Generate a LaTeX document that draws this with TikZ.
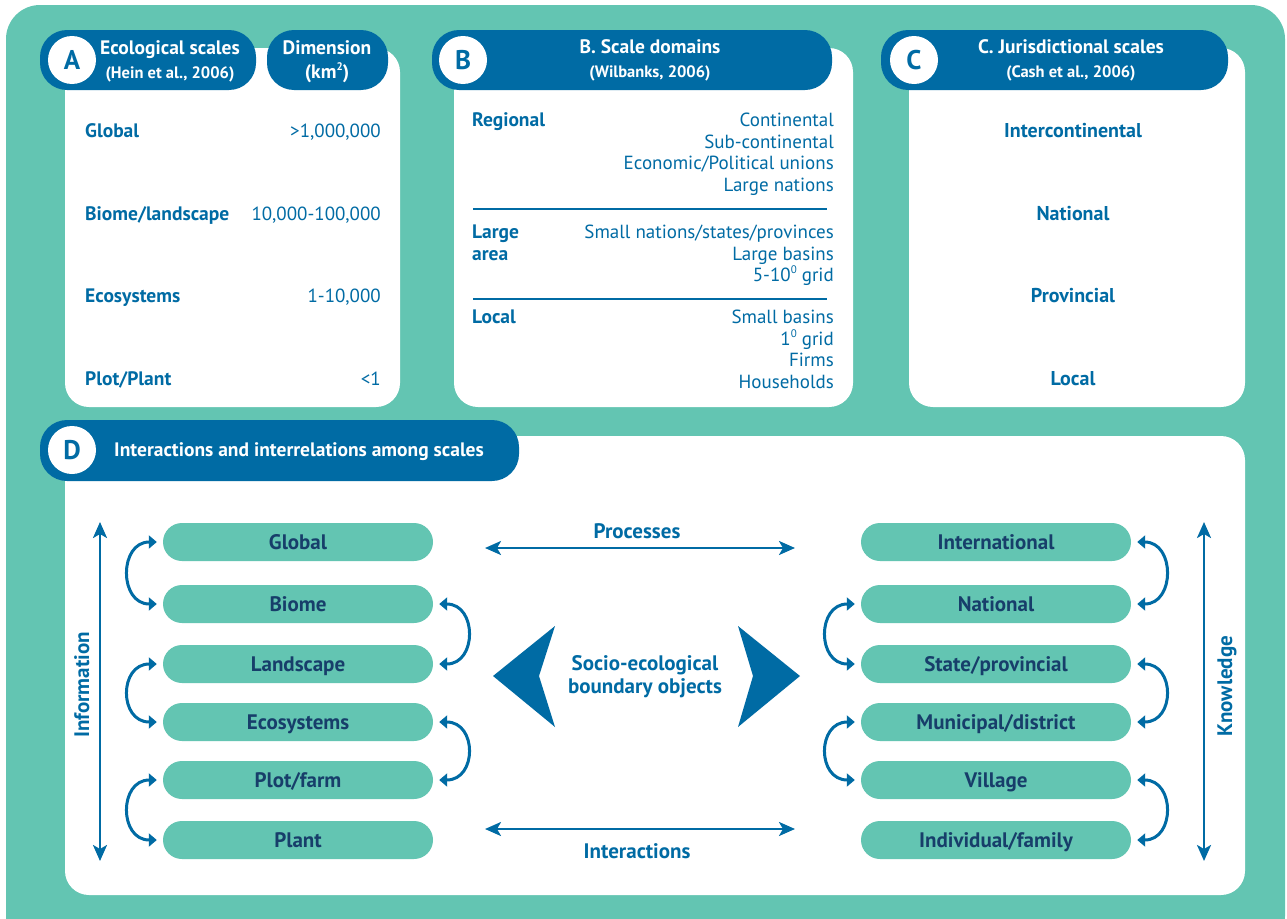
\documentclass[tikz,border=0pt]{standalone}
\usepackage{fontspec}
\setmainfont{PT Sans}
\usetikzlibrary{arrows.meta,calc}
\definecolor{tealbg}{HTML}{63C5B2}
\definecolor{hblue}{HTML}{006BA4}
\definecolor{navy}{HTML}{173E6A}
\newcommand{\fsz}[1]{\fontsize{#1}{#1}\selectfont}
\newcommand{\mysup}[1]{\raisebox{0.75ex}{\fontsize{11}{11}\selectfont #1}}
\begin{document}
\begin{tikzpicture}[x=1pt,y=-1pt,
  panel/.style={fill=white, rounded corners=24pt},
  hdrpill/.style={fill=hblue, rounded corners=27pt},
  letterc/.style={circle, fill=white, minimum size=48pt, inner sep=0pt, text=hblue, font=\bfseries\fsz{27}},
  htitle/.style={anchor=base, text=white, font=\bfseries\fsz{19.5}, inner sep=0pt},
  hsub/.style={anchor=base, text=white, font=\bfseries\fsz{16.5}, inner sep=0pt},
  lab/.style={anchor=base west, text=hblue, font=\bfseries\fsz{19.5}, inner sep=0pt},
  val/.style={anchor=base east, text=hblue, font=\fsz{19}, inner sep=0pt},
  clab/.style={anchor=base, text=hblue, font=\bfseries\fsz{20}, inner sep=0pt},
  dlab/.style={anchor=base, text=hblue, font=\bfseries\fsz{21}, inner sep=0pt},
  scl/.style={fill=tealbg, rounded corners=19pt, minimum width=270pt, minimum height=38pt, inner sep=0pt, text height=15pt, text depth=0pt, text=navy, font=\bfseries\fsz{21}},
  curv/.style={draw=hblue, line width=3pt, arrows={Triangle[length=8pt,width=13pt]-Triangle[length=8pt,width=13pt]}},
  sarr/.style={draw=hblue, line width=2.5pt, arrows={Stealth[length=16pt,width=14pt,inset=4pt]-Stealth[length=16pt,width=14pt,inset=4pt]}}
]
\useasboundingbox (0,0) rectangle (1287,918);
% background
\fill[tealbg, rounded corners=34pt] (6,5) rectangle (1285,950);
% panels
\fill[panel] (65,48) rectangle (400,407);
\fill[panel] (454,48) rectangle (853,407);
\fill[panel] (909,48) rectangle (1245,407);
\fill[panel] (65,436) rectangle (1245,895);
% header pills
\fill[hdrpill] (40,30) rectangle (256,90);
\fill[hdrpill] (267,30) rectangle (388,90);
\fill[hdrpill] (432,30) rectangle (832,90);
\fill[hdrpill] (881,30) rectangle (1228,90);
\fill[hdrpill] (40,420) rectangle (519,481);
\node[letterc] (la) at (72,60) {A};
\node[letterc] (lb) at (463,60) {B};
\node[letterc] (lc) at (914,60) {C};
\node[letterc] (ld) at (72,450) {D};
% header texts
\node[htitle] (ta1) at (170,54) {Ecological scales};
\node[hsub] (ta2) at (170,78) {(Hein et al., 2006)};
\node[htitle] (td1) at (327,54) {Dimension};
\node[htitle] (td2) at (327,78) {(km\mysup{2})};
\node[htitle] (tb1) at (650,53) {B. Scale domains};
\node[hsub] (tb2) at (650,77) {(Wilbanks, 2006)};
\node[htitle] (tc1) at (1071,53) {C. Jurisdictional scales};
\node[hsub] (tc2) at (1071,77) {(Cash et al., 2006)};
\node[htitle, anchor=base west] (tdd) at (114,456) {Interactions and interrelations among scales};
% panel A
\node[lab] (a1) at (85,137) {Global};
\node[val] (a1v) at (381,137) {>1,000,000};
\node[lab] (a2) at (85,220) {Biome/landscape};
\node[val] (a2v) at (381,220) {10,000-100,000};
\node[lab] (a3) at (85,302) {Ecosystems};
\node[val] (a3v) at (381,302) {1-10,000};
\node[lab] (a4) at (85,385) {Plot/Plant};
\node[val] (a4v) at (381,385) {<1};
% panel B
\node[lab] (b1) at (472,126) {Regional};
\node[val] (b1a) at (834,126) {Continental};
\node[val] (b1b) at (834,148) {Sub-continental};
\node[val] (b1c) at (834,169) {Economic/Political unions};
\node[val] (b1d) at (834,191) {Large nations};
\draw[hblue, line width=2pt] (473,209) -- (827,209);
\node[lab] (b2) at (472,238) {Large};
\node[lab] (b2x) at (472,260) {area};
\node[val] (b2a) at (834,238) {Small nations/states/provinces};
\node[val] (b2b) at (834,260) {Large basins};
\node[val] (b2c) at (834,281) {5-10\mysup{0} grid};
\draw[hblue, line width=2pt] (473,299) -- (827,299);
\node[lab] (b3) at (472,323) {Local};
\node[val] (b3a) at (834,323) {Small basins};
\node[val] (b3b) at (834,345) {1\mysup{0} grid};
\node[val] (b3c) at (834,366) {Firms};
\node[val] (b3d) at (834,388) {Households};
% panel C
\node[clab] (c1) at (1073,137) {Intercontinental};
\node[clab] (c2) at (1073,220) {National};
\node[clab] (c3) at (1073,302) {Provincial};
\node[clab] (c4) at (1073,385) {Local};
% panel D nodes
\node[scl] (g1) at (298,542) {Global};
\node[scl] (g2) at (298,604) {Biome};
\node[scl] (g3) at (298,664) {Landscape};
\node[scl] (g4) at (298,722) {Ecosystems};
\node[scl] (g5) at (298,780) {Plot/farm};
\node[scl] (g6) at (298,840) {Plant};
\node[scl] (j1) at (996,542) {International};
\node[scl] (j2) at (996,604) {National};
\node[scl] (j3) at (996,664) {State/provincial};
\node[scl] (j4) at (996,722) {Municipal/district};
\node[scl] (j5) at (996,780) {Village};
\node[scl] (j6) at (996,840) {Individual/family};
% curved arrows
\foreach \p/\q in {g1/g2, g3/g4, g5/g6, j2/j3, j4/j5}
  \draw[curv] ([xshift=-6pt]\p.west) .. controls +(-38,0) and +(-38,0) .. ([xshift=-6pt]\q.west);
\foreach \p/\q in {g2/g3, g4/g5, j1/j2, j3/j4, j5/j6}
  \draw[curv] ([xshift=6pt]\p.east) .. controls +(38,0) and +(38,0) .. ([xshift=6pt]\q.east);
% vertical arrows
\coordinate (infT) at (100,522);
\coordinate (infB) at (100,861);
\draw[sarr] (infT) -- (infB);
\node[dlab, rotate=90] (inf) at (89,685) {Information};
\coordinate (knT) at (1204,522);
\coordinate (knB) at (1204,861);
\draw[sarr] (knT) -- (knB);
\node[dlab, rotate=90] (kn) at (1232,686) {Knowledge};
% horizontal arrows
\coordinate (prL) at (485,548);
\coordinate (prR) at (795,548);
\draw[sarr] (prL) -- (prR);
\node[dlab] (pr) at (637,538) {Processes};
\coordinate (inL) at (485,829);
\coordinate (inR) at (795,829);
\draw[sarr] (inL) -- (inR);
\node[dlab] (inx) at (637,858) {Interactions};
% big arrowheads
\fill[hblue] (493,676) -- (555,626) -- (539,676) -- (555,727) -- cycle;
\fill[hblue] (800,676) -- (738,626) -- (753,676) -- (738,727) -- cycle;
\node[dlab] (s1) at (645,670) {Socio-ecological};
\node[dlab] (s2) at (645,693) {boundary objects};
\end{tikzpicture}
\end{document}
